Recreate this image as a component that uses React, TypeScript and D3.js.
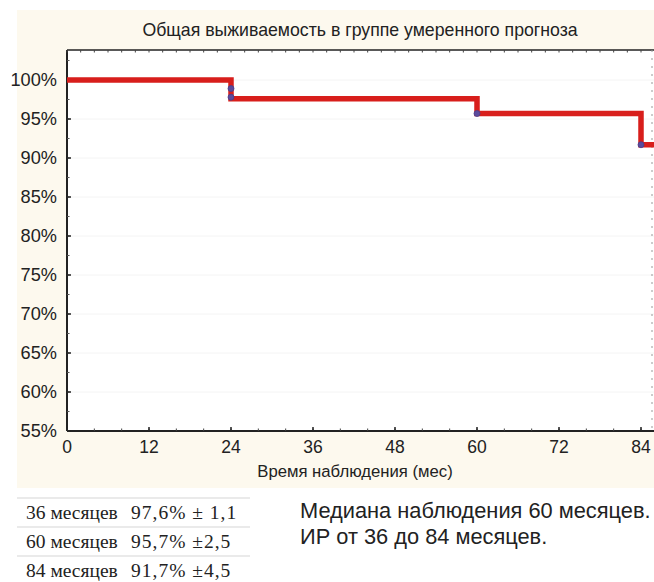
import React from "react";
import * as d3 from "d3";

const title = "Общая выживаемость в группе умеренного прогноза";
const xLabel = "Время наблюдения (мес)";
const xTicks = [0, 12, 24, 36, 48, 60, 72, 84];
const yTicks = [55, 60, 65, 70, 75, 80, 85, 90, 95, 100];
// Kaplan-Meier step points (months, survival %)
const stepTimes = [0, 24, 60, 84, 86];
const stepSurv = [100, 97.6, 95.7, 91.7, 91.7];
// censored marks
const censorTimes = [24, 24, 60, 84];
const censorSurv = [98.9, 97.8, 95.7, 91.7];
const tableMonths = ["36 месяцев", "60 месяцев", "84 месяцев"];
const tableValues = ["97,6% ± 1,1", "95,7% ±2,5", "91,7% ±4,5"];
const noteLines = ["Медиана наблюдения 60 месяцев.", "ИР от 36 до 84 месяцев."];

const W = 654;
const H = 582;
const left = 67;
const top = 50;
const bottom = 431;

export default function App() {
  const x = d3.scaleLinear().domain([0, 12]).range([left, left + 82]);
  const y = d3.scaleLinear().domain([55, 100]).range([bottom, 80]);
  const right = W + 2;

  const pts: [number, number][] = [];
  stepTimes.forEach((t, i) => {
    if (i > 0) pts.push([t, stepSurv[i - 1]]);
    pts.push([t, stepSurv[i]]);
  });
  const line = d3
    .line<[number, number]>()
    .x((d) => x(d[0]))
    .y((d) => y(d[1]));

  const minorX = d3.range(0, 88, 4);
  const minorTop = d3.range(0, 88, 2);
  const minorY = d3.range(55, 104, 2.5);

  const sans = "'Liberation Sans', Arial, Helvetica, sans-serif";
  const serif = "'Liberation Serif', 'Times New Roman', serif";

  return (
    <div style={{ position: "fixed", left: 0, top: 0 }}>
      <svg width={W} height={H} style={{ display: "block", background: "#ffffff" }}>
        <rect x={17} y={10} width={W - 17} height={478} fill="#fdf9ee" />
        <rect x={left} y={top} width={right - left} height={bottom - top} fill="#ffffff" />
        {yTicks.map((v) => (
          <line key={"g" + v} x1={left} x2={right} y1={y(v)} y2={y(v)} stroke="#f4f4f4" strokeWidth={1} />
        ))}
        <text x={360} y={36} textAnchor="middle" fontFamily={sans} fontSize={17.7} fill="#222">
          {title}
        </text>
        <line x1={left} x2={right} y1={top} y2={top} stroke="#222" strokeWidth={1.5} />
        <line x1={left} x2={left} y1={top} y2={bottom} stroke="#222" strokeWidth={2} />
        <line x1={left} x2={right} y1={bottom} y2={bottom} stroke="#222" strokeWidth={2.2} />
        <line x1={652} x2={652} y1={top} y2={bottom} stroke="#999" strokeWidth={1} strokeDasharray="2,6" />
        {minorTop.map((v) => (
          <line key={"mt" + v} x1={x(v)} x2={x(v)} y1={top} y2={top + 2.5} stroke="#444" strokeWidth={1} />
        ))}
        {minorX.map((v) => (
          <line key={"mx" + v} x1={x(v)} x2={x(v)} y1={bottom} y2={bottom - 2.5} stroke="#444" strokeWidth={1} />
        ))}
        {xTicks.map((v) => (
          <g key={"xt" + v}>
            <line x1={x(v)} x2={x(v)} y1={bottom} y2={bottom - 4} stroke="#222" strokeWidth={1.5} />
            <text x={x(v)} y={453} textAnchor="middle" fontFamily={sans} fontSize={17.5} fill="#222">
              {v}
            </text>
          </g>
        ))}
        {minorY.map((v) => (
          <line key={"my" + v} x1={left} x2={left + 2.5} y1={y(v)} y2={y(v)} stroke="#555" strokeWidth={1} />
        ))}
        {yTicks.map((v) => (
          <g key={"yt" + v}>
            <line x1={left} x2={left + 4} y1={y(v)} y2={y(v)} stroke="#222" strokeWidth={1.5} />
            <text x={57} y={y(v) + 6.3} textAnchor="end" fontFamily={sans} fontSize={18.2} fill="#222">
              {v + "%"}
            </text>
          </g>
        ))}
        <text x={355} y={477} textAnchor="middle" fontFamily={sans} fontSize={16.7} fill="#222">
          {xLabel}
        </text>
        <path d={line(pts) || ""} fill="none" stroke="#d81e1b" strokeWidth={5.5} strokeLinejoin="miter" />
        {censorTimes.map((t, i) => (
          <circle key={"c" + i} cx={x(t)} cy={y(censorSurv[i])} r={3} fill="#5b4a9c" stroke="#4a3d8a" strokeWidth={0.8} />
        ))}
        {[498, 527, 556].map((yy, i) => (
          <line key={"tl" + i} x1={17} x2={250} y1={yy} y2={yy} stroke="#d6d6d6" strokeWidth={1.2} />
        ))}
        {tableMonths.map((m, i) => (
          <g key={"tr" + i}>
            <text x={26} y={519 + i * 29} fontFamily={serif} fontSize={19.5} fill="#222">
              {m}
            </text>
            <text x={131} y={519 + i * 29} fontFamily={serif} fontSize={19.5} fill="#222" letterSpacing={1}>
              {tableValues[i]}
            </text>
          </g>
        ))}
        {noteLines.map((s, i) => (
          <text key={"n" + i} x={300} y={518 + i * 26} fontFamily={sans} fontSize={21.8} fill="#222">
            {s}
          </text>
        ))}
      </svg>
    </div>
  );
}
